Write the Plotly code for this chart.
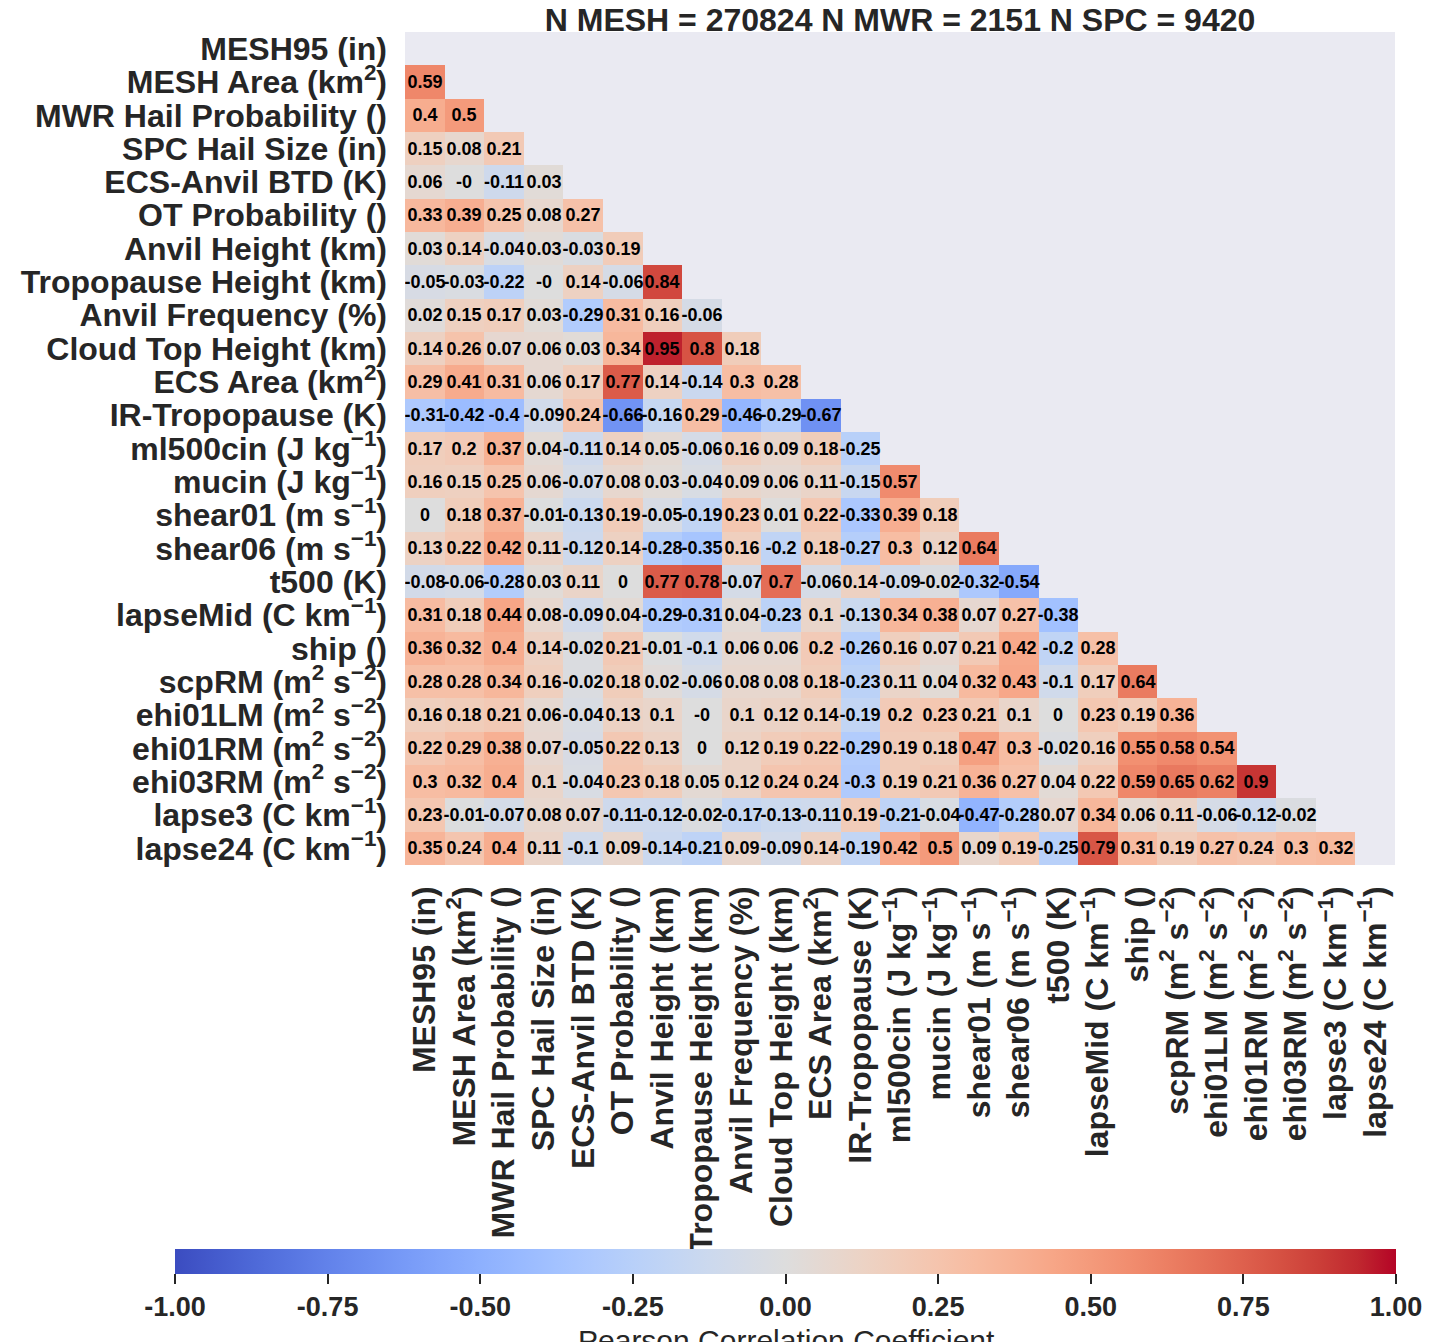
import plotly.graph_objects as go

title_text = "N MESH = 270824 N MWR = 2151 N SPC = 9420"
colorbar_title = "Pearson Correlation Coefficient"

labels = [
    "MESH95 (in)",
    "MESH Area (km<sup>2</sup>)",
    "MWR Hail Probability ()",
    "SPC Hail Size (in)",
    "ECS-Anvil BTD (K)",
    "OT Probability ()",
    "Anvil Height (km)",
    "Tropopause Height (km)",
    "Anvil Frequency (%)",
    "Cloud Top Height (km)",
    "ECS Area (km<sup>2</sup>)",
    "IR-Tropopause (K)",
    "ml500cin (J kg<sup>−1</sup>)",
    "mucin (J kg<sup>−1</sup>)",
    "shear01 (m s<sup>−1</sup>)",
    "shear06 (m s<sup>−1</sup>)",
    "t500 (K)",
    "lapseMid (C km<sup>−1</sup>)",
    "ship ()",
    "scpRM (m<sup>2</sup> s<sup>−2</sup>)",
    "ehi01LM (m<sup>2</sup> s<sup>−2</sup>)",
    "ehi01RM (m<sup>2</sup> s<sup>−2</sup>)",
    "ehi03RM (m<sup>2</sup> s<sup>−2</sup>)",
    "lapse3 (C km<sup>−1</sup>)",
    "lapse24 (C km<sup>−1</sup>)",
]

# lower triangle (below diagonal), row i has i values
lower_triangle = [
    [],
    [0.59],
    [0.4, 0.5],
    [0.15, 0.08, 0.21],
    [0.06, -0.0, -0.11, 0.03],
    [0.33, 0.39, 0.25, 0.08, 0.27],
    [0.03, 0.14, -0.04, 0.03, -0.03, 0.19],
    [-0.05, -0.03, -0.22, -0.0, 0.14, -0.06, 0.84],
    [0.02, 0.15, 0.17, 0.03, -0.29, 0.31, 0.16, -0.06],
    [0.14, 0.26, 0.07, 0.06, 0.03, 0.34, 0.95, 0.8, 0.18],
    [0.29, 0.41, 0.31, 0.06, 0.17, 0.77, 0.14, -0.14, 0.3, 0.28],
    [-0.31, -0.42, -0.4, -0.09, 0.24, -0.66, -0.16, 0.29, -0.46, -0.29, -0.67],
    [0.17, 0.2, 0.37, 0.04, -0.11, 0.14, 0.05, -0.06, 0.16, 0.09, 0.18, -0.25],
    [0.16, 0.15, 0.25, 0.06, -0.07, 0.08, 0.03, -0.04, 0.09, 0.06, 0.11, -0.15, 0.57],
    [0.0, 0.18, 0.37, -0.01, -0.13, 0.19, -0.05, -0.19, 0.23, 0.01, 0.22, -0.33, 0.39, 0.18],
    [0.13, 0.22, 0.42, 0.11, -0.12, 0.14, -0.28, -0.35, 0.16, -0.2, 0.18, -0.27, 0.3, 0.12, 0.64],
    [-0.08, -0.06, -0.28, 0.03, 0.11, 0.0, 0.77, 0.78, -0.07, 0.7, -0.06, 0.14, -0.09, -0.02, -0.32, -0.54],
    [0.31, 0.18, 0.44, 0.08, -0.09, 0.04, -0.29, -0.31, 0.04, -0.23, 0.1, -0.13, 0.34, 0.38, 0.07, 0.27, -0.38],
    [0.36, 0.32, 0.4, 0.14, -0.02, 0.21, -0.01, -0.1, 0.06, 0.06, 0.2, -0.26, 0.16, 0.07, 0.21, 0.42, -0.2, 0.28],
    [0.28, 0.28, 0.34, 0.16, -0.02, 0.18, 0.02, -0.06, 0.08, 0.08, 0.18, -0.23, 0.11, 0.04, 0.32, 0.43, -0.1, 0.17, 0.64],
    [0.16, 0.18, 0.21, 0.06, -0.04, 0.13, 0.1, -0.0, 0.1, 0.12, 0.14, -0.19, 0.2, 0.23, 0.21, 0.1, 0.0, 0.23, 0.19, 0.36],
    [0.22, 0.29, 0.38, 0.07, -0.05, 0.22, 0.13, 0.0, 0.12, 0.19, 0.22, -0.29, 0.19, 0.18, 0.47, 0.3, -0.02, 0.16, 0.55, 0.58, 0.54],
    [0.3, 0.32, 0.4, 0.1, -0.04, 0.23, 0.18, 0.05, 0.12, 0.24, 0.24, -0.3, 0.19, 0.21, 0.36, 0.27, 0.04, 0.22, 0.59, 0.65, 0.62, 0.9],
    [0.23, -0.01, -0.07, 0.08, 0.07, -0.11, -0.12, -0.02, -0.17, -0.13, -0.11, 0.19, -0.21, -0.04, -0.47, -0.28, 0.07, 0.34, 0.06, 0.11, -0.06, -0.12, -0.02],
    [0.35, 0.24, 0.4, 0.11, -0.1, 0.09, -0.14, -0.21, 0.09, -0.09, 0.14, -0.19, 0.42, 0.5, 0.09, 0.19, -0.25, 0.79, 0.31, 0.19, 0.27, 0.24, 0.3, 0.32],
]

cbar_ticks = [-1.0, -0.75, -0.5, -0.25, 0.0, 0.25, 0.5, 0.75, 1.0]

# matplotlib "coolwarm"
coolwarm_rgb = [
    (59, 76, 192), (68, 90, 204), (77, 104, 215), (87, 117, 225), (98, 130, 234),
    (108, 142, 241), (119, 154, 247), (130, 165, 251), (141, 176, 254), (152, 185, 255),
    (163, 194, 255), (174, 201, 253), (184, 208, 249), (194, 213, 244), (204, 217, 238),
    (213, 219, 230), (221, 221, 221), (229, 216, 209), (236, 211, 197), (241, 204, 185),
    (245, 196, 173), (247, 187, 160), (247, 177, 148), (247, 166, 135), (244, 154, 123),
    (241, 141, 111), (236, 127, 99), (229, 112, 88), (222, 96, 77), (213, 80, 66),
    (203, 62, 56), (192, 40, 47), (180, 4, 38),
]
n_c = len(coolwarm_rgb)
colorscale = [[i / (n_c - 1), "rgb(%d,%d,%d)" % c] for i, c in enumerate(coolwarm_rgb)]

n = len(labels)
z = []
text = []
for i in range(n):
    zrow, trow = [], []
    for j in range(n):
        if j < i:
            v = lower_triangle[i][j]
            zrow.append(v)
            trow.append(f"{v:g}")
        else:
            zrow.append(None)
            trow.append("")
    z.append(zrow)
    text.append(trow)

FONT = "Liberation Sans, Arial, sans-serif"
TXT = "#262626"

W, H = 1434, 1342
L, R, T, B = 405, 1395, 32, 865
pw, ph = R - L, B - T

fig = go.Figure(
    go.Heatmap(
        z=z,
        x=list(range(n)),
        y=list(range(n)),
        text=text,
        texttemplate="%{text}",
        textfont=dict(family=FONT, size=18, color="black", weight="bold"),
        colorscale=colorscale,
        zmin=-1,
        zmax=1,
        hoverongaps=False,
        colorbar=dict(
            orientation="h",
            x=(175 - L) / pw,
            xanchor="left",
            len=(1396 - 175) / pw,
            lenmode="fraction",
            y=(B - 1249) / ph,
            yanchor="top",
            thickness=25,
            thicknessmode="pixels",
            xpad=0,
            ypad=0,
            outlinewidth=0,
            tickvals=cbar_ticks,
            ticktext=[f"{t:.2f}" for t in cbar_ticks],
            ticks="outside",
            ticklen=10,
            tickwidth=2,
            tickcolor=TXT,
            tickfont=dict(family=FONT, size=27, color=TXT, weight="bold"),
        ),
    )
)

fig.add_annotation(
    text=colorbar_title,
    xref="paper", yref="paper",
    x=(786 - L) / pw, y=(B - 1322) / ph,
    xanchor="center", yanchor="top",
    showarrow=False,
    font=dict(family=FONT, size=30, color=TXT),
)

fig.update_layout(
    width=W,
    height=H,
    margin=dict(l=L, r=W - R, t=T, b=H - B, pad=0, autoexpand=False),
    paper_bgcolor="white",
    plot_bgcolor="#EAEAF2",
    title=dict(
        text=title_text,
        x=0.5 * (L + R) / W,
        xanchor="center",
        y=1 - 9 / H,
        yanchor="top",
        yref="container",
        font=dict(family=FONT, size=32, color=TXT, weight="bold"),
    ),
    xaxis=dict(
        tickvals=list(range(n)),
        ticktext=labels,
        tickangle=-90,
        range=[-0.5, n - 0.5],
        showgrid=False,
        zeroline=False,
        showline=False,
        ticks="",
        ticklabelstandoff=14,
        tickfont=dict(family=FONT, size=32, color=TXT, weight="bold"),
    ),
    yaxis=dict(
        tickvals=list(range(n)),
        ticktext=labels,
        range=[n - 0.5, -0.5],
        showgrid=False,
        zeroline=False,
        showline=False,
        ticks="",
        ticklabelstandoff=17,
        tickfont=dict(family=FONT, size=32, color=TXT, weight="bold"),
    ),
)

fig.write_html("out.html")
